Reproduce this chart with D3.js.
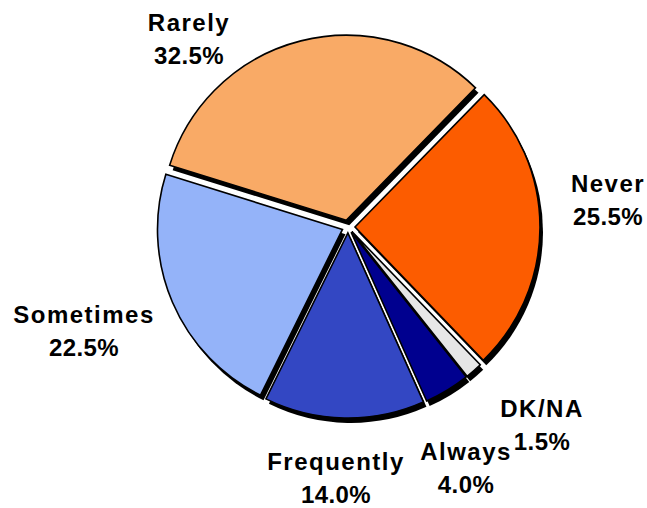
<!DOCTYPE html>
<html>
<head>
<meta charset="utf-8">
<script src="https://cdn.jsdelivr.net/npm/d3@7/dist/d3.min.js"></script>
<style>
  html, body { margin: 0; padding: 0; background: #fff; }
  svg { display: block; }
  text { font-family: "Liberation Sans", Arial, sans-serif; font-weight: bold; fill: #000; }
</style>
</head>
<body>
<div id="chart"></div>
<script>
// ---- data (clockwise from the top-right) ----
const categories = ["Never", "DK/NA", "Always", "Frequently", "Sometimes", "Rarely"];
const values = [25.5, 1.5, 4.0, 14.0, 22.5, 32.5];
const valueLabels = ["25.5%", "1.5%", "4.0%", "14.0%", "22.5%", "32.5%"];
const colors = ["#FC5C00", "#E6E6E6", "#00008F", "#3347C3", "#94B3F9", "#F9AA66"];

// label anchor points (centre x, baseline of first line)
const labelPos = [
  [608, 192], [542, 417], [466, 460], [336, 470], [84, 323], [189, 31]
];
// per-slice explosion distance
const explodeBy = [7, 6, 6, 6, 6, 7];

const W = 647, H = 508;
const cx = 348, cy = 227, R = 185;
const shadowDx = 3, shadowDy = 5;
const startDeg = 44.3;

const svg = d3.select("#chart").append("svg")
  .attr("width", W).attr("height", H);

const data = categories.map((c, i) => ({ name: c, value: values[i], label: valueLabels[i], color: colors[i], pos: labelPos[i], ex: explodeBy[i] }));

const pie = d3.pie().sort(null).value(d => d.value)
  .startAngle(startDeg * Math.PI / 180)
  .endAngle((startDeg + 360) * Math.PI / 180);
const arcs = pie(data);
const arc = d3.arc().innerRadius(0).outerRadius(R);

function offset(a) {
  const m = (a.startAngle + a.endAngle) / 2;
  return [Math.sin(m) * a.data.ex, -Math.cos(m) * a.data.ex];
}

const g = svg.append("g").attr("transform", `translate(${cx},${cy})`);

// shadows
g.selectAll("path.shadow").data(arcs).join("path")
  .attr("class", "shadow")
  .attr("d", arc)
  .attr("fill", "#000")
  .attr("transform", d => { const o = offset(d); return `translate(${o[0] + shadowDx},${o[1] + shadowDy})`; });

// slices
g.selectAll("path.slice").data(arcs).join("path")
  .attr("class", "slice")
  .attr("d", arc)
  .attr("fill", d => d.data.color)
  .attr("stroke", "#000")
  .attr("stroke-width", 1.6)
  .attr("stroke-linejoin", "miter")
  .attr("transform", d => { const o = offset(d); return `translate(${o[0]},${o[1]})`; });

// labels
const lab = svg.selectAll("g.lab").data(data).join("g").attr("class", "lab");
lab.append("text")
  .attr("x", d => d.pos[0]).attr("y", d => d.pos[1])
  .attr("text-anchor", "middle")
  .attr("font-size", 24)
  .attr("letter-spacing", 1.5)
  .text(d => d.name);
lab.append("text")
  .attr("x", d => d.pos[0]).attr("y", d => d.pos[1] + 33)
  .attr("text-anchor", "middle")
  .attr("font-size", 24)
  .attr("letter-spacing", 0.4)
  .text(d => d.label);
</script>
</body>
</html>
